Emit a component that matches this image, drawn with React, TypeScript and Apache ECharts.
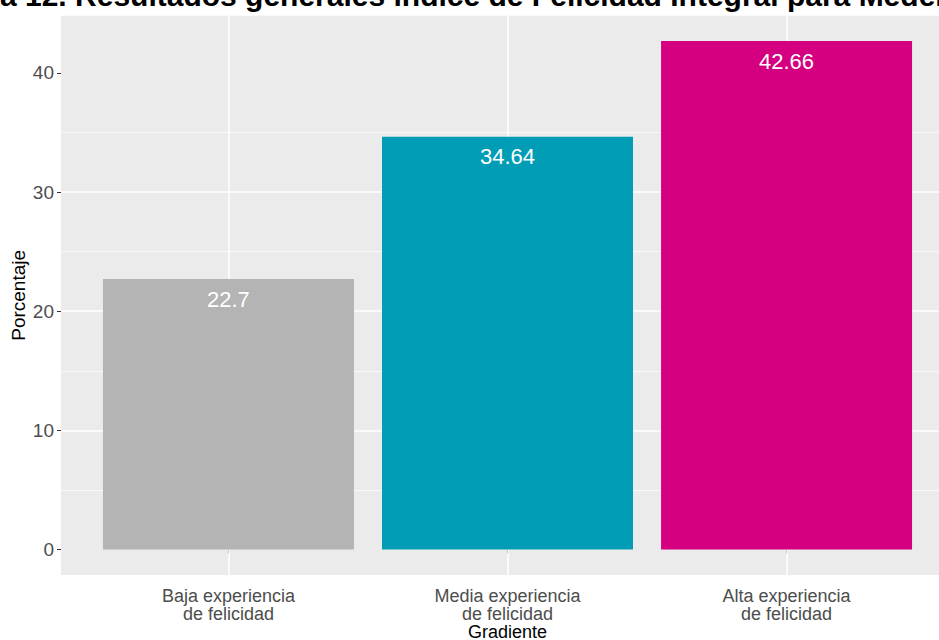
import React, { useEffect, useRef } from "react";
import * as echarts from "echarts";

const categories = ["Baja experiencia\nde felicidad", "Media experiencia\nde felicidad", "Alta experiencia\nde felicidad"];
const positions = [1, 2, 3];
const values = [22.7, 34.64, 42.66];
const colors = ["#b4b4b4", "#019db6", "#d5007f"];
const yMajorTicks = [0, 10, 20, 30, 40];
const yMinorTicks = [5, 15, 25, 35];
const titleText = "Figura 12. Resultados generales índice de Felicidad Integral para Medellín";

const FONT = "'Liberation Sans', Arial, sans-serif";

export default function App() {
  const ref = useRef<HTMLDivElement>(null);
  useEffect(() => {
    if (!ref.current) return;
    const chart = echarts.init(ref.current, null, { renderer: "svg" });
    chart.setOption({
      animation: false,
      backgroundColor: "#ffffff",
      textStyle: { fontFamily: FONT },
      graphic: [
        {
          type: "text",
          left: -75,
          top: -20,
          z: 10,
          style: {
            text: titleText,
            fontFamily: FONT,
            fontWeight: "bold",
            fontSize: 30,
            fill: "#000000",
          },
        },
      ],
      grid: {
        left: 61,
        right: 0,
        top: 15.7,
        bottom: 65,
        show: true,
        backgroundColor: "#ebebeb",
        borderWidth: 0,
        containLabel: false,
        outerBoundsMode: "none",
      },
      xAxis: {
        type: "value",
        min: 0.4,
        max: 3.6,
        name: "Gradiente",
        nameLocation: "middle",
        nameGap: 47.5,
        nameMoveOverlap: false,
        nameTextStyle: { color: "#000000", fontSize: 18, lineHeight: 18, fontFamily: FONT },
        axisLine: { show: false },
        axisTick: { show: true, length: 4, lineStyle: { color: "#333333", width: 1 }, customValues: positions },
        axisLabel: {
          customValues: positions,
          color: "#4d4d4d",
          fontSize: 18,
          lineHeight: 18,
          margin: 11.5,
          fontFamily: FONT,
          formatter: (v: number) => {
            const i = positions.indexOf(Math.round(v));
            return Math.abs(v - Math.round(v)) < 1e-6 && i >= 0 ? categories[i] : "";
          },
        },
        splitLine: { show: false },
      },
      yAxis: {
        type: "value",
        min: -2.133,
        max: 44.793,
        minInterval: 10,
        maxInterval: 10,
        name: "Porcentaje",
        nameLocation: "middle",
        nameRotate: 90,
        nameGap: 33,
        nameMoveOverlap: false,
        nameTextStyle: { color: "#000000", fontSize: 19, fontFamily: FONT },
        axisLine: { show: false },
        axisTick: { show: true, length: 4, lineStyle: { color: "#333333", width: 1 }, customValues: yMajorTicks },
        axisLabel: {
          customValues: yMajorTicks,
          color: "#4d4d4d",
          fontSize: 19,
          margin: 7,
          fontFamily: FONT,
          formatter: (v: number) => (yMajorTicks.indexOf(v) >= 0 ? String(v) : ""),
        },
        splitLine: { show: true, showMinLine: false, showMaxLine: false, lineStyle: { color: "#ffffff", width: 1.5 } },
      },
      series: [
        {
          type: "line",
          data: [],
          z: 1,
          silent: true,
          markLine: {
            silent: true,
            z: 1,
            symbol: "none",
            label: { show: false },
            lineStyle: { color: "#ffffff", width: 0.7, type: "solid" },
            data: yMinorTicks.map((v) => ({ yAxis: v })),
          },
        },
        {
          type: "line",
          data: [],
          z: 1,
          silent: true,
          markLine: {
            silent: true,
            z: 1,
            symbol: "none",
            label: { show: false },
            lineStyle: { color: "#ffffff", width: 1.5, type: "solid" },
            data: positions.map((v) => ({ xAxis: v })),
          },
        },
        {
          type: "bar",
          z: 3,
          barWidth: 251,
          data: positions.map((p, i) => ({ value: [p, values[i]], itemStyle: { color: colors[i] } })),
          label: {
            show: true,
            position: "insideTop",
            distance: 9,
            color: "#ffffff",
            fontSize: 22,
            fontFamily: FONT,
            formatter: (p: any) => String(p.value[1]),
          },
        },
      ],
    });
    return () => chart.dispose();
  }, []);
  return (
    <div style={{ position: "absolute", left: 0, top: 0, width: 939, height: 640, overflow: "hidden", background: "#fff" }}>
      <div ref={ref} style={{ width: 954, height: 640 }} />
    </div>
  );
}
